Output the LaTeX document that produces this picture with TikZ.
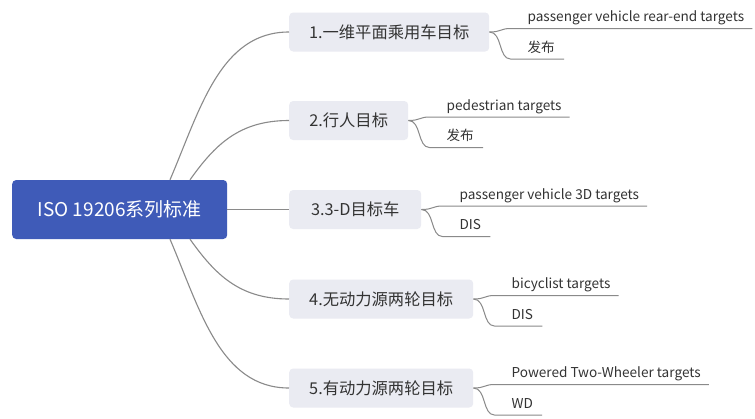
\documentclass[tikz,border=0pt]{standalone}
\usepackage{fontspec}
\setmainfont{Noto Sans CJK SC}
\usetikzlibrary{calc}
\definecolor{rootblue}{HTML}{3F5BB8}
\definecolor{boxfill}{HTML}{EAEBF2}
\definecolor{linegray}{HTML}{8A8A8A}
\definecolor{txt}{HTML}{333333}
\begin{document}
\begin{tikzpicture}[x=1pt,y=-1pt,
  rootbox/.style={fill=rootblue, rounded corners=4pt, minimum width=215pt, minimum height=59pt, text=white, font=\fontsize{19}{22}\selectfont, anchor=west, inner sep=0pt},
  catbox/.style={fill=boxfill, rounded corners=4pt, minimum height=39pt, text=txt, font=\fontsize{16.3}{19}\selectfont, anchor=west, inner sep=0pt},
  leaf/.style={text=txt, font=\fontsize{13.6}{16}\selectfont, anchor=base west, inner sep=0pt},
  conn/.style={draw=linegray, line width=1.1pt},
  lconn/.style={draw=linegray, line width=1pt}]
\fill[white] (0,0) rectangle (755,418);
\useasboundingbox (0,0) rectangle (755,418);

\node[rootbox] (root) at (12,209.5) {ISO 19206系列标准};

\node[catbox, minimum width=200pt] (b1) at (289,32) {1.一维平面乘用车目标};
\node[catbox, minimum width=119pt] (b2) at (289,120.5) {2.行人目标};
\node[catbox, minimum width=132pt] (b3) at (289,209.5) {3.3-D目标车};
\node[catbox, minimum width=184pt] (b4) at (289,299) {4.无动力源两轮目标};
\node[catbox, minimum width=184pt] (b5) at (289,388) {5.有动力源两轮目标};

% main connectors
\draw[conn] ([xshift=158pt]root.north west) .. controls +(30,-70) and +(-69,0) .. (b1.west);
\draw[conn] ([xshift=178pt]root.north west) .. controls +(25,-35) and +(-50,0) .. (b2.west);
\draw[conn] (root.east) -- (b3.west);
\draw[conn] ([xshift=178pt]root.south west) .. controls +(25,35) and +(-50,0) .. (b4.west);
\draw[conn] ([xshift=158pt]root.south west) .. controls +(30,70) and +(-69,0) .. (b5.west);

% leaves
\foreach \b/\up/\dn in {b1/passenger vehicle rear-end targets/发布,
                        b2/pedestrian targets/发布,
                        b3/passenger vehicle 3D targets/DIS,
                        b4/bicyclist targets/DIS,
                        b5/Powered Two-Wheeler targets/WD}{
  \coordinate (\b u) at ($(\b.east)+(21,-3.5)$);
  \coordinate (\b d) at ($(\b.east)+(21,27)$);
  \node[leaf] (\b ut) at ($(\b u)+(17,-7)$) {\up};
  \node[leaf] (\b dt) at ($(\b d)+(17,-7)$) {\dn};
  \draw[lconn] (\b.east) .. controls +(12,0) and +(-10,0) .. (\b u) -- ($(\b ut.east |- \b u)+(8,0)$);
  \draw[lconn] (\b.east) .. controls +(13,0) and +(-12,0) .. (\b d) -- ($(\b dt.east |- \b d)+(9,0)$);
}
\end{tikzpicture}
\end{document}
